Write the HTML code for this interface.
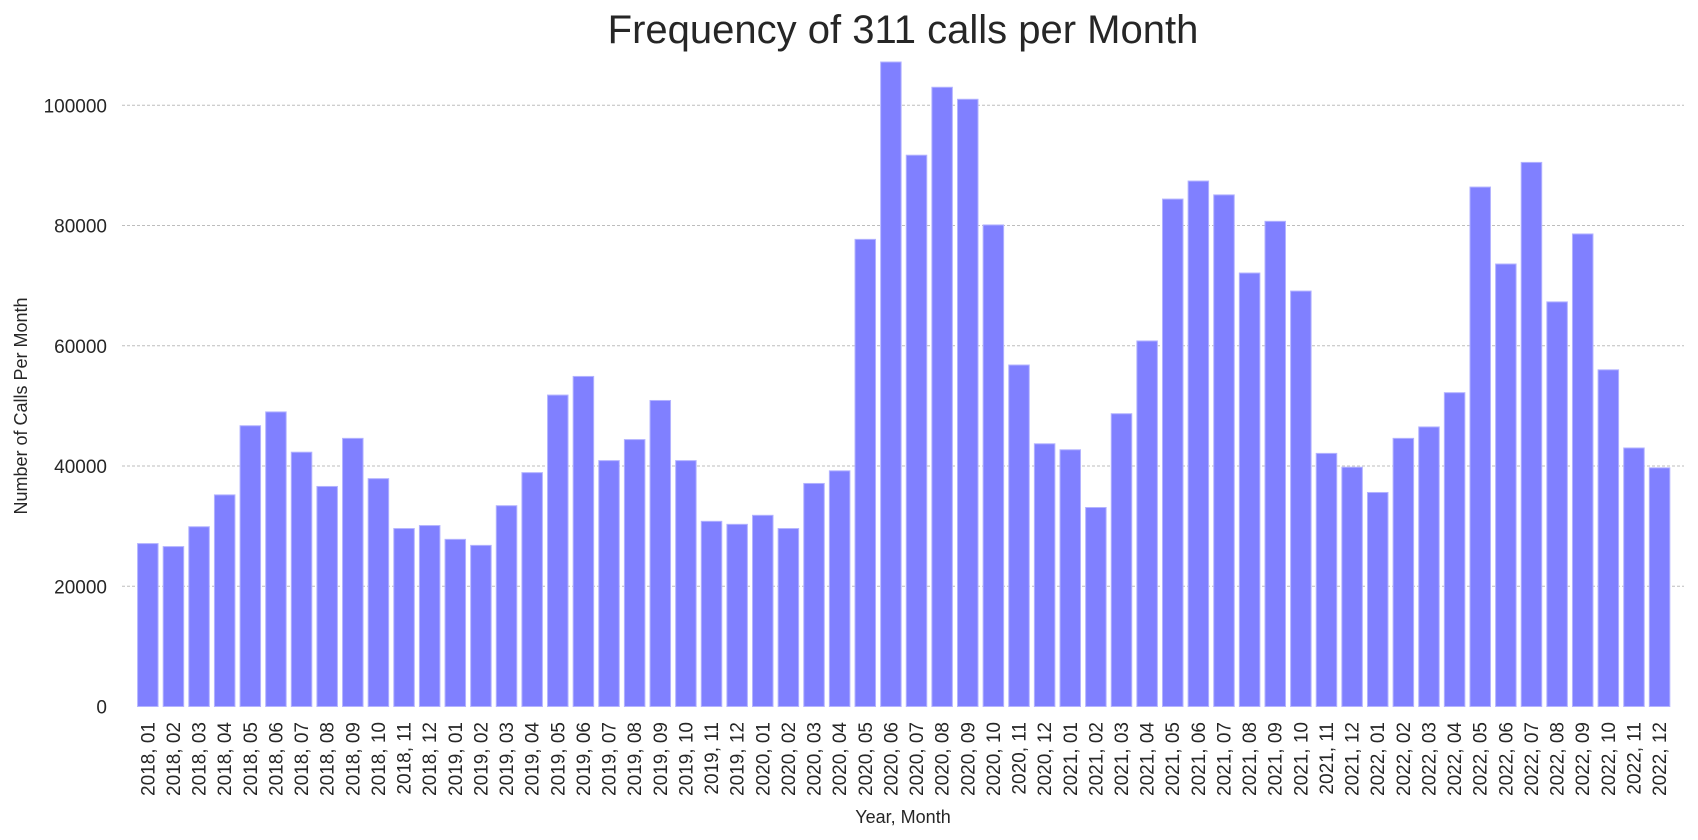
<!DOCTYPE html>
<html><head><meta charset="utf-8"><style>
html,body{margin:0;padding:0;background:#fff;}
svg{display:block;font-family:"Liberation Sans",Arial,sans-serif;}
</style></head><body>
<svg id="chart" width="1698" height="840" viewBox="0 0 1698 840" xmlns="http://www.w3.org/2000/svg">
<text x="903" y="43" font-size="40" fill="#262626" text-anchor="middle">Frequency of 311 calls per Month</text>
<g id="grid"></g>
<g id="bars"></g>
<g id="yticks"></g>
<g id="xticks"></g>
<text transform="translate(27,406) rotate(-90)" font-size="18" fill="#262626" text-anchor="middle">Number of Calls Per Month</text>
<text x="903" y="823" font-size="18" fill="#262626" text-anchor="middle">Year, Month</text>
</svg>
<script>
const years = ["2018","2019","2020","2021","2022"];
const months = ["01","02","03","04","05","06","07","08","09","10","11","12"];
const calls2018 = [27100,26600,29900,35200,46700,49000,42300,36600,44600,37900,29600,30100];
const calls2019 = [27800,26800,33400,38900,51800,54900,40900,44400,50900,40900,30800,30300];
const calls2020 = [31800,29600,37100,39200,77700,107200,91700,103000,101000,80100,56800,43700];
const calls2021 = [42700,33100,48700,60800,84400,87400,85100,72100,80700,69100,42100,39800];
const calls2022 = [35600,44600,46500,52200,86400,73600,90500,67300,78600,56000,43000,39700];
const yTicks = [0,20000,40000,60000,80000,100000];

const categories = [];
years.forEach(y => months.forEach(m => categories.push(y + ", " + m)));
const values = [].concat(calls2018, calls2019, calls2020, calls2021, calls2022);

const NS = "http://www.w3.org/2000/svg";
const x0 = 135.0, x1 = 1672.4;
const yBase = 706.5, yPerUnit = (706.5 - 105.3) / 100000;
const n = categories.length;
const step = (x1 - x0) / n;
function xCenter(i){ return x0 + step * (i + 0.5); }
function yPos(v){ return yBase - v * yPerUnit; }

const grid = document.getElementById("grid");
const yt = document.getElementById("yticks");
yTicks.forEach(t => {
  if (t > 0) {
    const l = document.createElementNS(NS, "line");
    
    
    l.setAttribute("x1", 122); l.setAttribute("x2", 1684);
    l.setAttribute("y1", yPos(t)); l.setAttribute("y2", yPos(t));
    l.setAttribute("stroke", "#bdbdbd"); l.setAttribute("stroke-width", "1");
    l.setAttribute("stroke-dasharray", "3,2");
    grid.appendChild(l);
  }
  const tx = document.createElementNS(NS, "text");
  
  
  tx.setAttribute("x", 107); tx.setAttribute("y", yPos(t) + 7);
  tx.setAttribute("font-size", "19"); tx.setAttribute("fill", "#262626");
  tx.setAttribute("text-anchor", "end");
  tx.textContent = String(t);
  yt.appendChild(tx);
});

const bars = document.getElementById("bars");
const xt = document.getElementById("xticks");
const bw = step * 0.8;
values.forEach((v, i) => {
  const r = document.createElementNS(NS, "rect");
  
  
  r.setAttribute("x", xCenter(i) - bw / 2);
  r.setAttribute("y", yPos(v));
  r.setAttribute("width", bw);
  r.setAttribute("height", yBase - yPos(v));
  r.setAttribute("fill", "#8080ff");
  r.setAttribute("stroke", "#b3b3ff");
  r.setAttribute("stroke-width", "1");
  bars.appendChild(r);

  const tx = document.createElementNS(NS, "text");
  
  
  const cx = xCenter(i) + 6.5, cy = 722;
  tx.setAttribute("transform", "translate(" + cx + "," + cy + ") rotate(-90)");
  tx.setAttribute("font-size", "19"); tx.setAttribute("fill", "#262626");
  tx.setAttribute("text-anchor", "end");
  tx.textContent = categories[i];
  xt.appendChild(tx);
});
</script>
</body></html>
